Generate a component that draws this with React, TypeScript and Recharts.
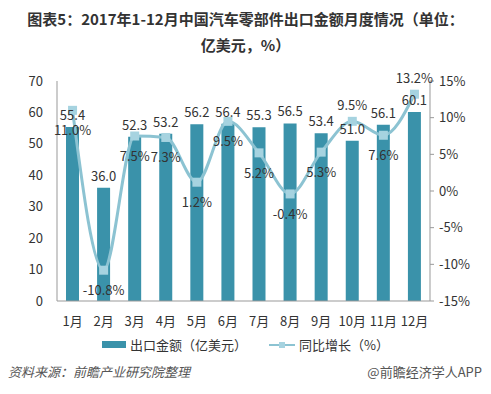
import { ComposedChart, Bar, Line, XAxis, YAxis, LabelList } from "recharts";

const months = ["1月", "2月", "3月", "4月", "5月", "6月", "7月", "8月", "9月", "10月", "11月", "12月"];
const exportValue = [55.4, 36.0, 52.3, 53.2, 56.2, 56.4, 55.3, 56.5, 53.4, 51.0, 56.1, 60.1];
const yoyGrowth = [11.0, -10.8, 7.5, 7.3, 1.2, 9.5, 5.2, -0.4, 5.3, 9.5, 7.6, 13.2];
// label above (true) or below (false) the line point
const growthLabelAbove = [false, false, false, false, false, false, false, false, false, true, false, true];
const leftTicks = [0, 10, 20, 30, 40, 50, 60, 70];
const rightTicks = [-15, -10, -5, 0, 5, 10, 15];

const BAR_COLOR = "#3a92aa";
const LINE_COLOR = "#8cc3d2";
const TEXT = "#333";
const FONT = "'Noto Sans CJK SC', 'Noto Sans', sans-serif";

const data = months.map((m, i) => ({
  month: m,
  value: exportValue[i],
  growth: yoyGrowth[i],
}));

function GrowthLabel(props: any) {
  const { x, y, index, value } = props;
  const above = growthLabelAbove[index];
  return (
    <text
      x={x}
      y={above ? y - 11 : y + 25}
      textAnchor="middle"
      fontSize={13}
      fill={TEXT}
      fontFamily={FONT}
    >
      {Number(value).toFixed(1)}%
    </text>
  );
}

function Square(props: any) {
  const { cx, cy } = props;
  if (cx == null || cy == null) return null;
  return <rect x={cx - 4.5} y={cy - 4.5} width={9} height={9} fill="#a6d3e0" />;
}

export default function App() {
  return (
    <div
      style={{
        position: "fixed",
        left: 0,
        top: 0,
        width: 491,
        height: 394,
        background: "#fff",
        fontFamily: FONT,
        color: TEXT,
      }}
    >
      <div
        style={{
          position: "absolute",
          top: 6,
          left: 0,
          width: 491,
          textAlign: "center",
          fontSize: 15,
          fontWeight: 700,
          lineHeight: "26px",
        }}
      >
        图表5：2017年1-12月中国汽车零部件出口金额月度情况（单位：
        <br />
        亿美元，%）
      </div>

      <div style={{ position: "absolute", left: 0, top: 0 }}>
        <ComposedChart
          width={491}
          height={394}
          data={data}
          margin={{ top: 81, right: 0, bottom: 63, left: 0 }}
        >
          <XAxis
            dataKey="month"
            height={30}
            stroke="#999"
            tickLine={false}
            tick={{ fontSize: 13, fill: TEXT, fontFamily: FONT }}
            tickMargin={10}
            interval={0}
          />
          <YAxis
            yAxisId="left"
            width={57}
            domain={[0, 70]}
            ticks={leftTicks}
            stroke="#999"
            tickLine={false}
            tickMargin={8}
            tick={{ fontSize: 13, fill: TEXT, fontFamily: FONT }}
          />
          <YAxis
            yAxisId="right"
            orientation="right"
            width={61}
            domain={[-15, 15]}
            ticks={rightTicks}
            tickFormatter={(v) => `${v}%`}
            stroke="#999"
            tickLine={{ stroke: "#999" }}
            tickSize={4}
            tickMargin={5}
            tick={{ fontSize: 13, fill: TEXT, fontFamily: FONT }}
          />
          <Bar yAxisId="left" dataKey="value" fill={BAR_COLOR} barSize={13} isAnimationActive={false}>
            <LabelList
              dataKey="value"
              position="top"
              offset={7}
              formatter={(v: any) => Number(v).toFixed(1)}
              style={{ fontSize: 13, fill: TEXT, fontFamily: FONT }}
            />
          </Bar>
          <Line
            yAxisId="right"
            dataKey="growth"
            type="monotone"
            stroke={LINE_COLOR}
            strokeWidth={3}
            dot={<Square />}
            activeDot={false}
            isAnimationActive={false}
          >
            <LabelList dataKey="growth" content={<GrowthLabel />} />
          </Line>
        </ComposedChart>
      </div>

      <div
        style={{
          position: "absolute",
          top: 335,
          left: 0,
          width: 491,
          display: "flex",
          justifyContent: "center",
          alignItems: "center",
          fontSize: 13,
        }}
      >
        <span style={{ display: "inline-block", width: 24, height: 7, background: BAR_COLOR, marginRight: 4 }} />
        <span style={{ marginRight: 22 }}>出口金额（亿美元）</span>
        <span style={{ position: "relative", display: "inline-block", width: 26, height: 10, marginRight: 4 }}>
          <span style={{ position: "absolute", left: 0, top: 4, width: 26, height: 2, background: LINE_COLOR }} />
          <span style={{ position: "absolute", left: 10, top: 2, width: 6, height: 6, background: "#a6d3e0" }} />
        </span>
        <span>同比增长（%）</span>
      </div>

      <div
        style={{
          position: "absolute",
          top: 362,
          left: 8,
          fontSize: 13,
          fontStyle: "italic",
          color: "#555",
        }}
      >
        资料来源：前瞻产业研究院整理
      </div>
      <div
        style={{
          position: "absolute",
          top: 362,
          right: 9,
          fontSize: 13,
          color: "#555",
        }}
      >
        @前瞻经济学人APP
      </div>
    </div>
  );
}
